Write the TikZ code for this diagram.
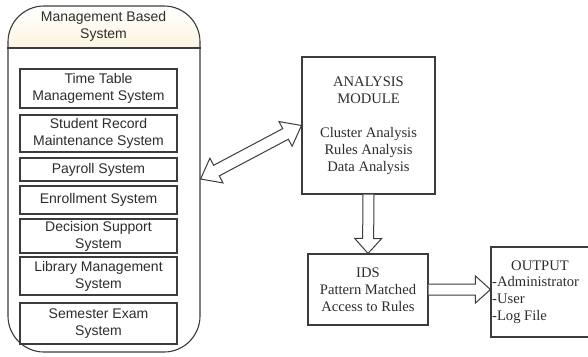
\documentclass[tikz,border=0pt]{standalone}
\usepackage{fontspec}
\setmainfont{Liberation Serif}
\newfontfamily\arialfont{Liberation Sans}
\usetikzlibrary{calc}
\definecolor{edge}{RGB}{60,60,60}
\definecolor{ink}{RGB}{45,45,45}
\definecolor{cream}{RGB}{252,244,224}
\newcommand\harrow[2]{%
  \coordinate (hp) at ($(#2)!15pt!(#1)$);
  \draw[hollow] ($(#1)!5.5pt!90:(#2)$) -- ($(hp)!5.5pt!90:(#2)$) -- ($(hp)!13.5pt!90:(#2)$) -- (#2)
     -- ($(hp)!13.5pt!-90:(#2)$) -- ($(hp)!5.5pt!-90:(#2)$) -- ($(#1)!5.5pt!-90:(#2)$);
}
\newcommand\hdarrow[2]{%
  \coordinate (hp) at ($(#2)!18pt!(#1)$);
  \coordinate (hq) at ($(#1)!18pt!(#2)$);
  \draw[hollow] ($(hq)!6pt!90:(#2)$) -- ($(hp)!6pt!90:(#2)$) -- ($(hp)!14pt!90:(#2)$) -- (#2)
     -- ($(hp)!14pt!-90:(#2)$) -- ($(hp)!6pt!-90:(#2)$) -- ($(hq)!6pt!-90:(#2)$)
     -- ($(hq)!14pt!-90:(#2)$) -- (#1) -- ($(hq)!14pt!90:(#2)$) -- cycle;
}
\begin{document}
\begin{tikzpicture}[x=1pt,y=-1pt,
  sysbox/.style={draw=edge, line width=1.1pt, fill=white, minimum width=157pt, inner sep=0pt,
     align=center, font=\arialfont\fontsize{14}{17}\selectfont, text=ink},
  serifbox/.style={draw=edge, line width=1.1pt, fill=white, inner sep=0pt, align=center,
     font=\fontsize{14.6}{17}\selectfont, text=ink},
  plaintext/.style={inner sep=0pt, text=ink, font=\fontsize{14.6}{17}\selectfont},
  hollow/.style={draw=edge, line width=1pt, fill=white, line join=miter}
]
\useasboundingbox (0,0) rectangle (588,356);
\clip (0,0) rectangle (588,356);
\fill[white] (0,0) rectangle (588,356);

% container
\begin{scope}
  \clip[rounded corners=36pt] (8,6) rectangle (200,352);
  \fill[top color=white, bottom color=cream] (8,6) rectangle (200,48);
\end{scope}
\node[draw=edge, line width=1.1pt, rounded corners=36pt, minimum width=192pt, minimum height=346pt, inner sep=0pt] (mbs) at (104,179) {};
\draw[edge, line width=1.1pt] (mbs.west |- 0,48) coordinate (hl) -- (mbs.east |- 0,48) coordinate (hr);
\node[align=center, inner sep=0pt, text=ink, font=\arialfont\fontsize{14}{17}\selectfont] (mbst) at (103.5,26.5) {Management Based\\System};

\node[sysbox, minimum height=39pt] (b1) at (98.5,88.5) {Time Table\\Management System};
\node[sysbox, minimum height=37pt] (b2) at (98.5,133.5) {Student Record\\Maintenance System};
\node[sysbox, minimum height=23pt] (b3) at (98.5,169.5) {Payroll System};
\node[sysbox, minimum height=28pt] (b4) at (98.5,200) {Enrollment System};
\node[sysbox, minimum height=34pt] (b5) at (98.5,236) {Decision Support\\System};
\node[sysbox, minimum height=38pt] (b6) at (98.5,276) {Library Management\\System};
\node[sysbox, minimum height=41pt] (b7) at (98.5,323.5) {Semester Exam\\System};

% analysis module
\node[serifbox, minimum width=133pt, minimum height=137pt] (ana) at (368.5,125.5)
  {ANALYSIS\\MODULE\\[17pt]Cluster Analysis\\Rules Analysis\\Data Analysis};

% IDS
\node[serifbox, minimum width=120pt, minimum height=71pt] (ids) at (368,289.5)
  {IDS\\Pattern Matched\\Access to Rules};

% output
\node[draw=edge, line width=1.1pt, fill=white, minimum width=104pt, minimum height=90pt, inner sep=0pt] (out) at (543,292) {};
\node[plaintext] (outt) at (540,265.5) {OUTPUT};
\node[plaintext, anchor=west, align=left] (outi) at (492,300) {-Administrator\\-User\\-Log File};

% arrows
\hdarrow{mbs.east}{ana.west}
\harrow{ana.south}{ids.north}
\coordinate (ot) at (ids.east -| out.west);
\harrow{ids.east}{ot}
\end{tikzpicture}
\end{document}
